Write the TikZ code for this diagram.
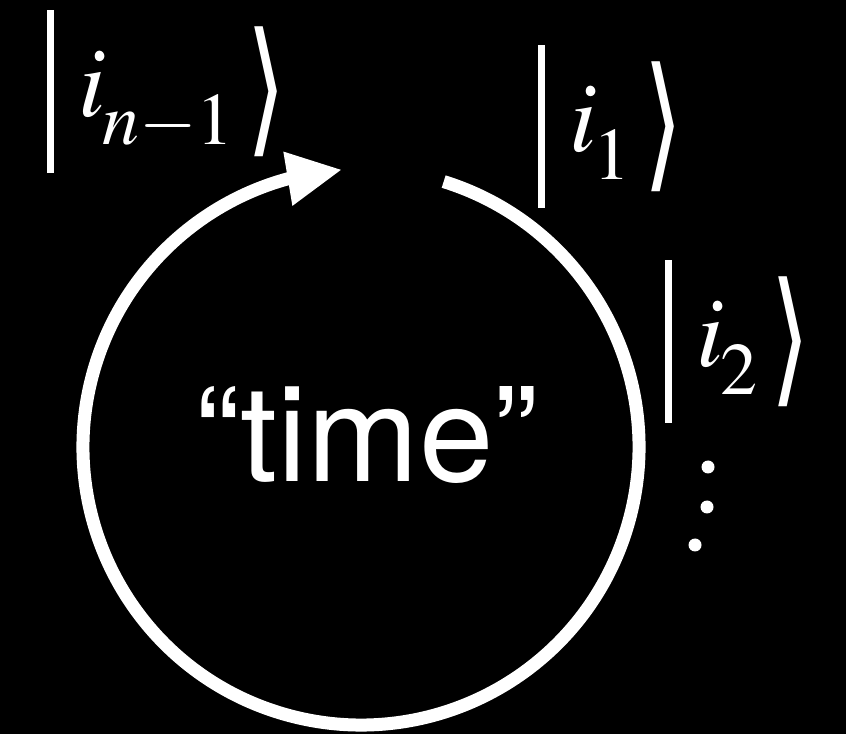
\documentclass[tikz,border=0pt]{standalone}
\usepackage{amsmath}
\usepackage{graphicx}
\usepackage{mathptmx}
\usepackage[no-math]{fontspec}
\newfontfamily\heros{TeX Gyre Heros}
\newfontfamily\djv{DejaVu Sans}
\usepackage{tikz}
\usetikzlibrary{arrows.meta, bending, positioning}
\DeclareMathSizes{50}{50}{37}{25}

% ket bar and closing bracket
\newcommand\ketbar{\vrule width 3.5pt height 53.5pt depth 28pt\hspace{12pt}}
\newcommand\ketend{\hspace{6pt}\raisebox{-20pt}[45pt][20pt]{\resizebox*{20pt}{65pt}{\raisebox{\depth}{\djv ⟩}}}}
\newcommand\lowsub[1]{_{\lower 6.5pt\hbox{\kern-2pt$\scriptstyle #1$}}}

\begin{document}
\begin{tikzpicture}[
  x=0.5pt, y=0.5pt,
  ket/.style={inner sep=0pt, anchor=base west, text=white, font=\fontsize{50}{60}\selectfont},
  loop/.style={white, line width=6.5pt, -{Triangle[length=27.5pt, width=25.5pt, flex]}},
  pt/.style={circle, fill=white, inner sep=0pt, minimum size=6.5pt},
  lbl/.style={inner sep=0pt, anchor=base, text=white, font=\heros\fontsize{67}{70}\selectfont}
]
\fill[black] (0,0) rectangle (846,734);
\useasboundingbox (0,0) rectangle (846,734);

\coordinate (c) at (361,287);
\draw[loop] ([shift={(72.7:278)}]c) arc[start angle=72.7, end angle=-266.1, radius=278];

\node[lbl] (time) at (367,252) {“time”};

\node[ket] (k1) at (47,617) {$\ketbar i\lowsub{n-1}\ketend$};
\node[ket] (k2) at (538,582) {$\ketbar i\lowsub{1}\ketend$};
\node[ket] (k3) at (665,367) {$\ketbar i\lowsub{2}\ketend$};

\node[pt] (p1) at (708,267) {};
\node[pt] (p2) at (707,227) {};
\node[pt] (p3) at (695,189) {};
\end{tikzpicture}
\end{document}
